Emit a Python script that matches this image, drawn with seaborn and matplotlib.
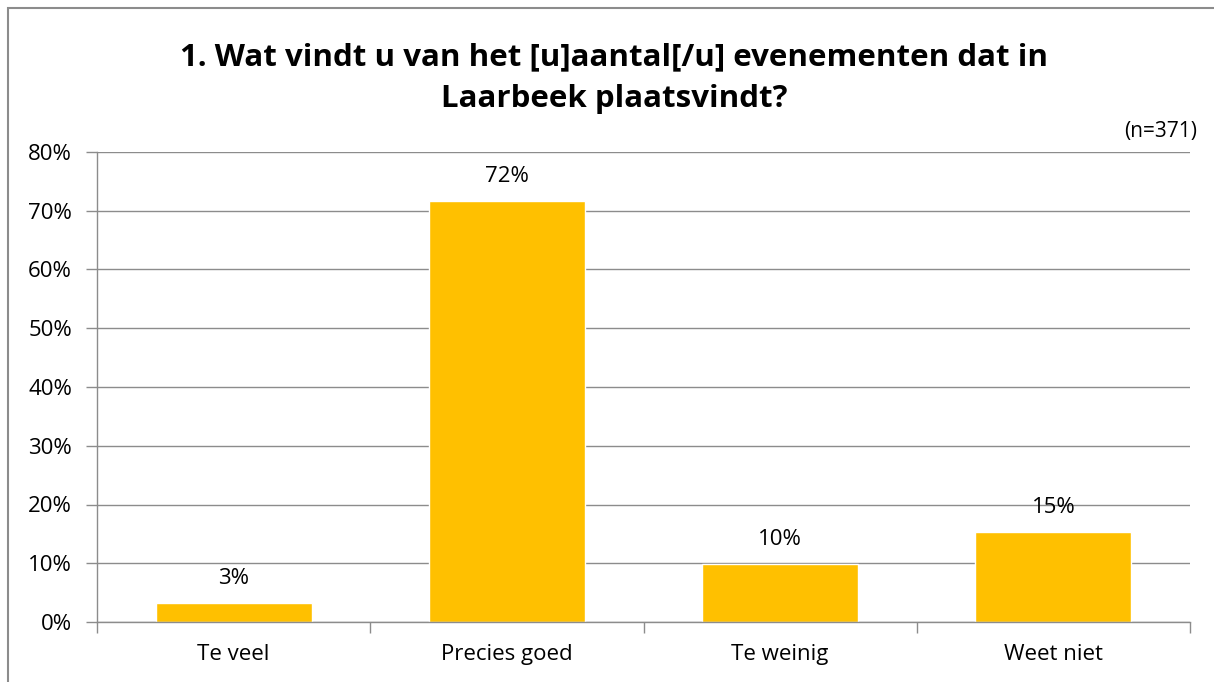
import matplotlib
matplotlib.use("Agg")
import matplotlib.pyplot as plt
import seaborn as sns
import pandas as pd
from matplotlib.patches import Rectangle

categories = ["Te veel", "Precies goed", "Te weinig", "Weet niet"]
values = [3.2, 71.6, 9.9, 15.3]
labels = ["3%", "72%", "10%", "15%"]
yticks = [0, 10, 20, 30, 40, 50, 60, 70, 80]
title = "1. Wat vindt u van het [u]aantal[/u] evenementen dat in\nLaarbeek plaatsvindt?"
note = "(n=371)"

sns.set_theme(style="white")
plt.rcParams['font.family'] = ['Open Sans', 'DejaVu Sans']
plt.rcParams['text.color'] = 'black'
plt.rcParams['xtick.color'] = 'black'
plt.rcParams['ytick.color'] = 'black'

fig = plt.figure(figsize=(12.14, 6.82), dpi=100)
W, H = 1214, 682
ax = fig.add_axes([97 / W, 1 - 622 / H, (1190 - 97) / W, (622 - 152) / H])

df = pd.DataFrame({"cat": categories, "val": values})
sns.barplot(data=df, x="cat", y="val", color="#FFC000", saturation=1, width=0.57, ax=ax)

ax.set_ylim(0, 80)
ax.set_xlim(-0.5, 3.5)
ax.set_yticks(yticks)
ax.set_yticklabels([f"{t}%" for t in yticks], fontsize=16)
ax.set_xticks(range(4))
ax.set_xticklabels(categories, fontsize=16)
ax.set_xlabel("")
ax.set_ylabel("")
ax.grid(axis="y", color="#8c8c8c", linewidth=1)
ax.set_axisbelow(True)
for s in ["top", "right"]:
    ax.spines[s].set_visible(False)
for s in ["left", "bottom"]:
    ax.spines[s].set_color("#8c8c8c")
    ax.spines[s].set_linewidth(1)

ax.tick_params(axis="y", length=8, color="#8c8c8c", width=1, left=True, pad=10, labelcolor="black")
ax.tick_params(axis="x", length=0, pad=16, labelcolor="black")
ax.set_xticks([-0.5, 0.5, 1.5, 2.5, 3.5], minor=True)
ax.tick_params(axis="x", which="minor", length=8, color="#8c8c8c", width=1, bottom=True)

for i, (v, l) in enumerate(zip(values, labels)):
    ax.annotate(l, (i, v), xytext=(0, 10), textcoords="offset points",
                ha="center", va="bottom", fontsize=16, color="black")

fig.text(614 / W, 1 - 78 / H, title, ha="center", va="center", fontsize=22.5,
         fontweight="bold", linespacing=1.5, color="black")
fig.text(1197 / W, 1 - 131 / H, note, ha="right", va="center", fontsize=15, color="black")

fig.patches.append(Rectangle((8 / W, -0.1), 1.2, 1 - 8 / H + 0.1, transform=fig.transFigure,
                             fill=False, edgecolor="#8c8c8c", linewidth=1.5))

fig.savefig("out.png", dpi=100)
